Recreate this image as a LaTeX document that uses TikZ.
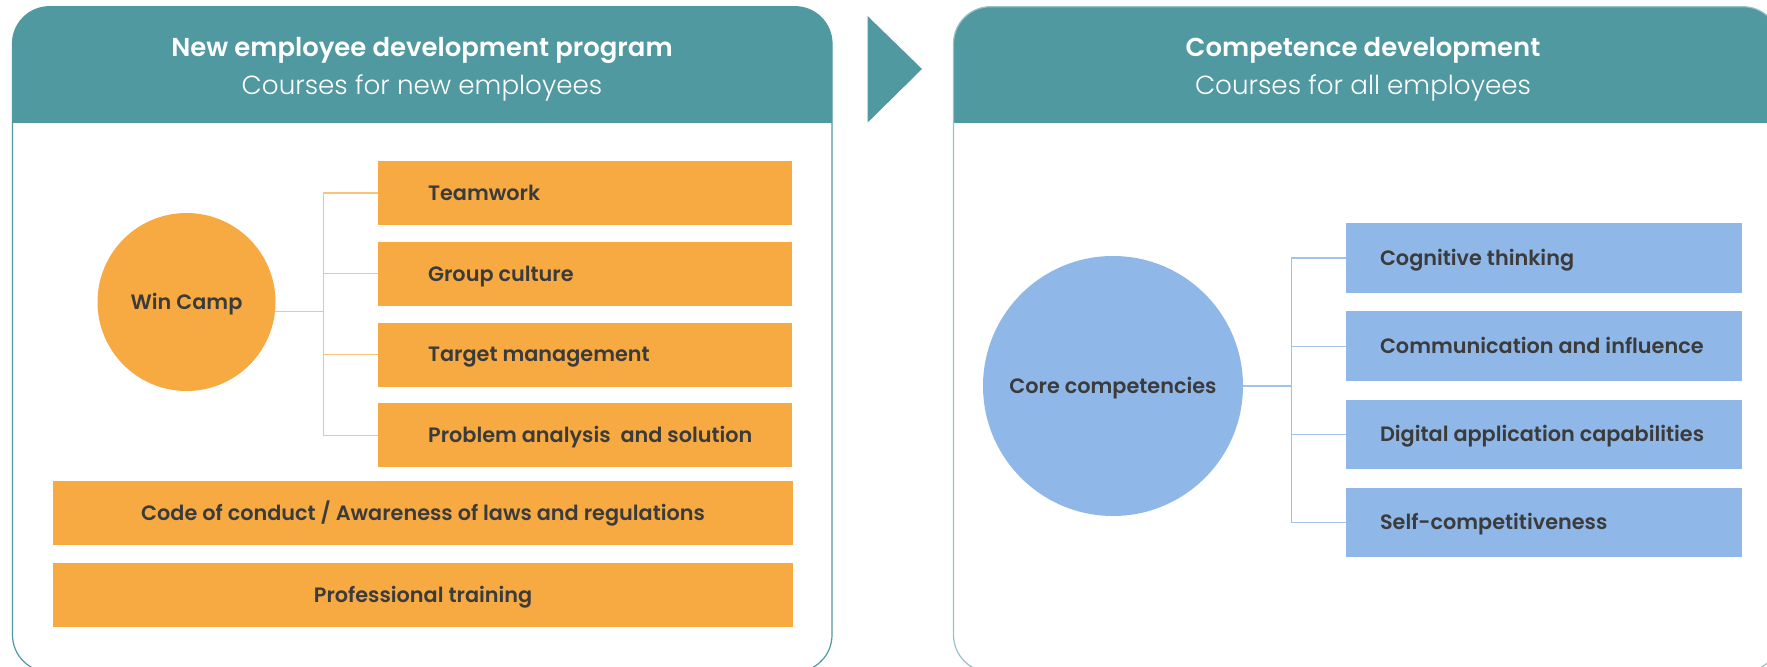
\documentclass[tikz,border=0pt]{standalone}
\usepackage{fontspec}
\setmainfont{Poppins}[BoldFont={Poppins SemiBold}]
\newfontfamily\poplight{Poppins Light}
\usetikzlibrary{positioning}
\definecolor{tealhd}{HTML}{5099A1}
\definecolor{orangebx}{HTML}{F7AA42}
\definecolor{bluebx}{HTML}{8FB7E8}
\definecolor{txtgray}{HTML}{3B3B3B}
\tikzset{
  boxtext/.style={font=\fontsize{10.4}{12}\selectfont\bfseries, text=txtgray, text height=7.3pt, text depth=0pt},
  obox/.style={fill=orangebx, minimum width=207pt, minimum height=32pt, inner sep=0pt},
  bbox/.style={fill=bluebx, minimum width=197.85pt, minimum height=34.7pt, inner sep=0pt},
  otext/.style={label={[boxtext, anchor=west, xshift=24.85pt, inner sep=0pt]west:#1}},
  btext/.style={label={[boxtext, anchor=west, xshift=17pt, inner sep=0pt]west:#1}},
  hdtitle/.style={font=\fontsize{12.95}{15}\selectfont\bfseries, text=white, text height=9.1pt, text depth=0pt, inner sep=0pt},
  hdsub/.style={font=\fontsize{13.1}{15}\selectfont\poplight, text=white, text height=9.1pt, text depth=0pt, inner sep=0pt},
  oline/.style={draw=orangebx!70, line width=0.6pt},
  bline/.style={draw=bluebx!85, line width=0.6pt}
}
\begin{document}
\begin{tikzpicture}[x=0.5pt,y=-0.5pt]
  \useasboundingbox (0,0) rectangle (1767,667);
  % panels
  \begin{scope}
    \clip (0,0) rectangle (1767,122.5);
    \fill[tealhd, rounded corners=18.5pt] (12.5,6.7) rectangle (832,200);
    \fill[tealhd, rounded corners=18.5pt] (953.5,6.7) rectangle (1780,200);
  \end{scope}
  \draw[tealhd, line width=0.6pt, rounded corners=18.5pt] (12.5,6.7) rectangle (832,672);
  \draw[tealhd!60, line width=0.6pt, rounded corners=18.5pt] (953.5,6.7) rectangle (1780,672);
  \fill[tealhd] (867.5,16) -- (922,69) -- (867.5,122.7) -- cycle;
  \node[hdtitle] (ltitle) at (422,47) {New employee development program};
  \node[hdsub] (lsub) at (422,85.5) {Courses for new employees};
  \node[hdtitle] (rtitle) at (1363,47) {Competence development};
  \node[hdsub] (rsub) at (1363,85.5) {Courses for all employees};

  % new employees
  \node[circle, fill=orangebx, minimum size=89pt, inner sep=0pt, boxtext] (wc) at (186.5,302) {Win Camp};
  \node[obox, otext=Teamwork] (tw) at (585.4,193) {};
  \node[obox, otext=Group culture, below=8pt of tw] (gc) {};
  \node[obox, otext=Target management, below=8pt of gc] (tm) {};
  \node[obox, otext={Problem analysis\ \ and solution}, below=8pt of tm] (pa) {};
  \node[obox, minimum width=370.3pt, boxtext] (coc) at (423.1,513) {Code of conduct / Awareness of laws and regulations};
  \node[obox, minimum width=370.3pt, boxtext, below=8.5pt of coc] (prof) {Professional training};
  \coordinate (ohub) at (323.5,311.5);
  \draw[oline] (wc.-6) -- (wc.-6 -| ohub);
  \draw[oline] (tw.west) -- (tw.west -| ohub) -- (pa.west -| ohub) -- (pa.west);
  \draw[oline] (gc.west) -- (gc.west -| ohub);
  \draw[oline] (tm.west) -- (tm.west -| ohub);

  % all employees
  \node[circle, fill=bluebx, minimum size=130pt, inner sep=0pt, boxtext] (core) at (1113,386) {Core competencies};
  \node[bbox, btext=Cognitive thinking] (cog) at (1543.85,258) {};
  \node[bbox, btext=Communication and influence, below=9pt of cog] (com) {};
  \node[bbox, btext=Digital application capabilities, below=9pt of com] (dig) {};
  \node[bbox, btext=Self-competitiveness, below=9pt of dig] (self) {};
  \coordinate (bhub) at (1291.5,388);
  \draw[bline] (core.east) -- (core.east -| bhub);
  \draw[bline] (cog.west) -- (cog.west -| bhub) -- (self.west -| bhub) -- (self.west);
  \draw[bline] (com.west) -- (com.west -| bhub);
  \draw[bline] (dig.west) -- (dig.west -| bhub);
\end{tikzpicture}
\end{document}
